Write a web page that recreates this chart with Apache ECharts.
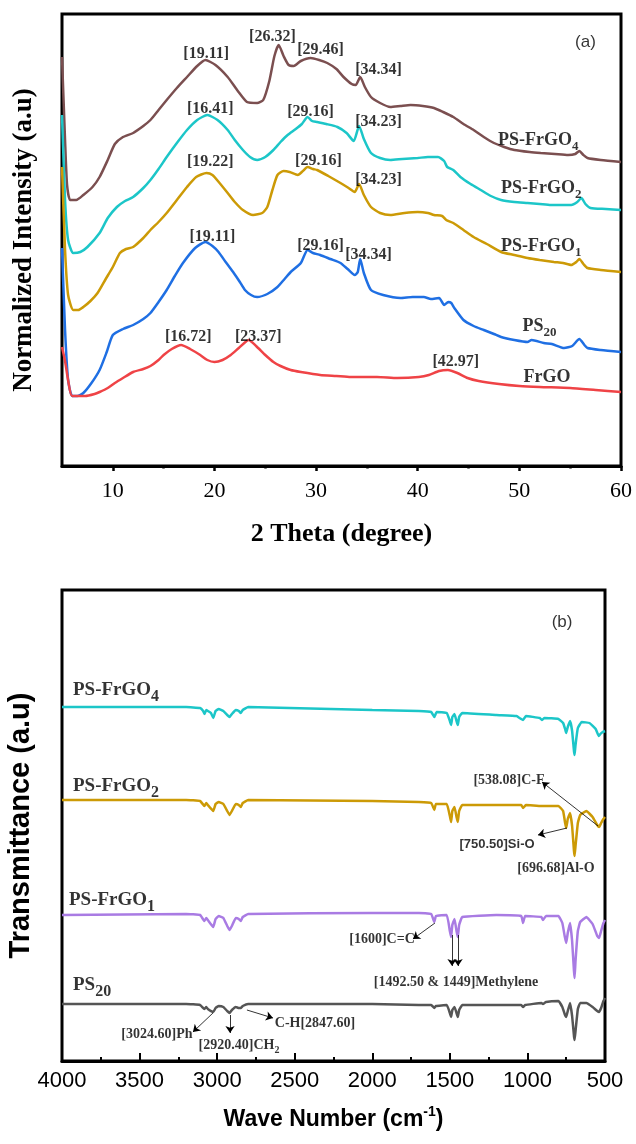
<!DOCTYPE html>
<html>
<head>
<meta charset="utf-8">
<script src="https://cdn.jsdelivr.net/npm/echarts@6/dist/echarts.min.js"></script>
<style>
  html, body { margin: 0; padding: 0; background: #fff; }
  #chart { width: 636px; height: 1144px; }
</style>
</head>
<body>
<div id="chart"></div>
<script>
// ---------- (a) XRD patterns: [2θ (degree), normalized intensity, stacked offset] ----------
const xrdFrGO4 = [[5,409],[5.3,326],[5.5,281],[5.8,266],[6.4,266],[7.1,271],[8,279],[8.7,289],[9.5,306],[10.2,322],[11,329],[12,333],[13,340],[13.7,346],[14.5,356],[15.3,366],[16.3,378],[17.3,389],[18.3,400],[19.11,406],[20.1,401],[21.3,389],[22.3,375],[23.2,364],[24.2,363],[24.8,366],[25.4,385],[25.9,410],[26.32,421],[26.8,410],[27.3,401],[27.8,400],[28.5,405],[29.46,408],[30.3,406],[31.1,403],[32,397],[32.7,389],[33.5,382],[33.9,381],[34.34,389],[34.8,379],[35.4,369],[36.3,363],[37.3,359],[38.3,360],[39.3,361],[40.5,360],[41.6,358],[42.5,354],[43.5,349],[44.5,342],[45.5,336],[46.5,329],[47.5,323],[48.5,319],[49.5,316],[51,314],[52.1,313],[53.5,312],[54.8,311],[55.5,312],[55.9,315],[56.3,311],[56.7,308],[58,306],[60,304]];
const xrdFrGO2 = [[5,351],[5.3,266],[5.6,226],[6.1,213],[6.8,214],[7.5,219],[8.7,233],[9.5,248],[10.4,259],[11.2,265],[12,269],[13,278],[13.7,286],[14.5,297],[15.3,309],[16.3,323],[17.3,336],[18.3,346],[19.3,351],[20.3,346],[21.3,336],[22,326],[22.8,316],[23.5,309],[24.2,306],[25,309],[25.8,316],[26.5,324],[27.2,331],[28,337],[28.6,342],[29.16,349],[29.6,345],[30.1,344],[31,342],[32.1,339],[33,333],[33.7,325],[34.23,340],[34.7,327],[35.4,313],[36.3,308],[37.3,306],[38.5,307],[40,308],[41,309],[42,309],[42.6,305],[42.9,299],[43.5,296],[44.2,289],[45.2,282],[46.2,276],[47.2,270],[48.2,266],[49.5,264],[50.8,263],[52,262],[53.1,261],[54.2,261],[55.1,261],[55.7,264],[56.1,268],[56.5,262],[57,258],[58.5,257],[60,256]];
const xrdFrGO1 = [[5,299],[5.3,216],[5.6,171],[6.1,156],[6.6,156],[7.1,159],[7.8,165],[8.5,173],[9.3,187],[10,199],[10.7,213],[11.3,217],[12,219],[13,228],[13.7,236],[14.5,244],[15.3,253],[16.3,266],[17.3,279],[18.2,289],[19.22,293],[19.8,291],[20.5,283],[21.3,273],[22,264],[22.8,256],[23.8,251],[24.7,253],[25.2,259],[25.7,276],[26.2,291],[26.8,295],[27.4,294],[28.2,291],[28.7,295],[29.16,299],[29.7,297],[30.1,296],[31.2,290],[32.4,283],[33.2,278],[33.8,274],[34.23,282],[34.7,271],[35.4,259],[36.3,253],[37.3,251],[38.7,253],[40,254],[41,253],[41.6,251],[42.4,250],[42.8,246],[43.5,243],[44.5,236],[45.5,229],[46.8,222],[48.2,214],[49.5,211],[50.8,208],[52,206],[53.4,204],[54.3,203],[55.1,201],[55.6,204],[55.9,207],[56.3,202],[56.7,198],[58,196],[60,194]];
const xrdPS20 = [[5,218],[5.3,136],[5.6,86],[6,70],[6.5,70],[7.1,73],[7.9,83],[8.7,96],[9.4,114],[10,131],[11,137],[12,141],[13,147],[13.7,153],[14.5,164],[15.3,176],[16.1,190],[16.9,203],[18.1,218],[19.11,224],[19.8,220],[20.4,214],[21.1,204],[21.9,193],[22.5,184],[23,176],[23.6,171],[24.2,169],[25.2,172],[26.2,179],[26.9,187],[27.5,194],[28.5,203],[29.16,216],[29.7,213],[30.4,211],[31.4,207],[32.4,203],[33.1,197],[33.8,191],[34.1,194],[34.34,207],[34.7,193],[35.4,176],[36.6,171],[38.3,168],[39.5,169],[40.6,169],[41.3,167],[42.1,168],[42.6,161],[43,164],[43.3,163],[43.6,158],[44.5,146],[45.5,140],[46.5,136],[47.5,132],[48.2,129],[49.5,126],[50.8,124],[51.2,126],[52.4,123],[53.2,122],[54.4,118],[55.2,120],[55.9,127],[56.4,121],[56.7,118],[58,116],[60,114]];
const xrdFrGO = [[5,119],[5.3,105],[5.6,86],[6,70],[7.3,70],[8.2,72],[8.7,74],[9.5,78],[10.2,83],[11,88],[12,94],[13,97],[13.7,100],[14.5,106],[15,111],[15.8,117],[16.72,121],[17.6,117],[18.6,111],[19.3,106],[20,104],[20.8,106],[21.6,111],[22.4,118],[23.37,126],[24.1,120],[25,111],[25.8,104],[26.5,100],[27.5,96],[28.5,94],[30.4,91],[32,90],[33.4,89],[36,89],[38,88],[40.1,89],[41.1,91],[42.1,95],[42.97,96],[43.9,93],[44.9,88],[46,85],[48,82],[50,80],[52,79],[55,78],[57.5,76],[60,74]];

const xrdTicks = [10, 20, 30, 40, 50, 60];
const xrdMinorTicks = [15, 25, 35, 45, 55];

// peak tags: [text, 2θ, intensity]
const xrdPeakTags = [
  ['[19.11]', 19.19, 412], ['[26.32]', 25.70, 429], ['[29.46]', 30.43, 416], ['[34.34]', 36.15, 396],
  ['[16.41]', 19.59, 357], ['[29.16]', 29.45, 354], ['[34.23]', 36.15, 344],
  ['[19.22]', 19.59, 304], ['[29.16]', 30.23, 305], ['[34.23]', 36.15, 286],
  ['[19.11]', 19.79, 229], ['[29.16]', 30.43, 220], ['[34.34]', 35.16, 211],
  ['[16.72]', 17.42, 129], ['[23.37]', 24.32, 129], ['[42.97]', 43.74, 104]
];
// sample names: [rich text, 2θ, intensity]
const xrdNames = [
  ['{m|PS-FrGO}{s|4}', 47.9, 326],
  ['{m|PS-FrGO}{s|2}', 48.2, 278],
  ['{m|PS-FrGO}{s|1}', 48.2, 220],
  ['{m|PS}{s|20}', 50.3, 140],
  ['{m|FrGO}', 50.4, 89]
];

// ---------- (b) FTIR spectra: [wave number (cm-1), transmittance, stacked offset] ----------
const ftirFrGO4 = [[4000,354],[3200,354],[3110,353],[3090,350],[3082,347],[3070,351],[3060,350],[3040,348],[3025,343],[3010,350],[2990,352],[2960,350],[2935,346],[2920,344],[2905,347],[2880,351],[2860,350],[2848,348],[2835,351],[2800,354],[2000,351],[1700,350],[1620,349],[1600,344],[1585,349],[1520,348],[1500,340],[1492,336],[1484,344],[1470,347],[1457,340],[1449,336],[1440,344],[1420,348],[1200,346],[1070,345],[1060,344],[1028,341],[1010,345],[920,343],[907,341],[890,343],[800,342],[770,338],[757,332],[750,328],[740,334],[725,340],[712,330],[700,310],[696,306],[690,316],[675,333],[650,339],[600,338],[560,332],[540,325],[530,327],[515,329],[500,330]];
const ftirFrGO2 = [[4000,261],[3200,261],[3110,260],[3082,255],[3070,258],[3060,256],[3025,250],[3010,257],[2990,259],[2960,257],[2935,250],[2920,246],[2905,250],[2880,257],[2860,256],[2848,254],[2835,258],[2800,261],[2000,260],[1700,259],[1620,258],[1600,251],[1590,257],[1520,257],[1500,245],[1492,239],[1484,250],[1470,254],[1457,244],[1449,239],[1440,250],[1420,256],[1200,256],[1040,256],[1028,253],[1010,256],[910,255],[800,255],[770,250],[757,238],[750,233],[740,242],[725,248],[712,235],[700,210],[696,205],[690,215],[675,238],[660,246],[620,250],[580,244],[550,236],[538,234],[525,238],[510,242],[500,244]];
const ftirFrGO1 = [[4000,146],[3200,147],[3110,146],[3082,140],[3070,143],[3060,141],[3025,134],[3010,142],[2990,145],[2960,143],[2935,135],[2920,131],[2905,135],[2880,143],[2860,142],[2848,140],[2835,144],[2800,147],[2000,148],[1700,148],[1620,147],[1600,139],[1590,145],[1520,146],[1500,130],[1492,124],[1484,136],[1470,142],[1457,130],[1449,124],[1440,136],[1420,144],[1200,146],[1040,145],[1028,138],[1015,145],[910,144],[900,141],[880,145],[800,145],[775,138],[760,125],[750,118],[740,128],[725,138],[712,120],[700,90],[696,83],[690,100],[675,130],[660,139],[620,144],[580,137],[550,125],[538,123],[525,130],[510,138],[500,141]];
const ftirPS20 = [[4000,57],[3200,57],[3110,56],[3082,52],[3070,54],[3060,52],[3025,49],[3010,53],[2990,55],[2960,54],[2935,50],[2920,48],[2905,51],[2880,54],[2860,53],[2848,53],[2835,55],[2800,57],[2000,57],[1700,56],[1620,56],[1600,53],[1590,55],[1520,56],[1500,48],[1492,44],[1484,51],[1470,54],[1457,48],[1449,44],[1440,51],[1420,56],[1200,56],[1040,56],[1028,54],[1015,56],[910,58],[900,57],[880,59],[800,60],[775,54],[760,47],[750,44],[740,50],[725,58],[712,45],[700,25],[696,21],[690,30],[675,52],[660,58],[620,58],[580,54],[550,50],[538,49],[525,53],[510,60],[500,63]];

// band assignments: [rich text, wave number, transmittance]
const ftirTags = [
  ['{t|[538.08]C-F}', 1119, 281],
  ['{u|[750.50]Si-O}', 1196, 217],
  ['{t|[696.68]Al-O}', 816, 193],
  ['{t|[1600]C=C}', 1937, 122],
  ['{t|[1492.50 & 1449]Methylene}', 1460, 79],
  ['{t|[3024.60]Ph}', 3388, 27],
  ['{t|[2920.40]CH}{d|2}', 2859, 16],
  ['{t|C-H[2847.60]}', 2369, 38]
];
// arrows from band to its tag: [[from], [to]]
const ftirArrows = [
  [[545, 235], [906, 279]],
  [[745, 233], [932, 226]],
  [[1596, 138], [1738, 122]],
  [[1486, 126], [1486, 95]],
  [[1447, 126], [1447, 95]],
  [[3027, 48], [3156, 29]],
  [[2917, 46], [2917, 28]],
  [[2808, 51], [2640, 43]]
];
const ftirNames = [
  ['{m|PS-FrGO}{s|4}', 3929, 371],
  ['{m|PS-FrGO}{s|2}', 3929, 275],
  ['{m|PS-FrGO}{s|1}', 3955, 161],
  ['{m|PS}{s|20}', 3929, 76]
];

const SERIF = '"Liberation Serif", "DejaVu Serif", serif';
const SANS = '"Liberation Sans", Arial, sans-serif';

const chart = echarts.init(document.getElementById('chart'), null, { renderer: 'canvas' });

function curve(data, color, xi, yi, width, smooth) {
  return {
    type: 'line', data: data, xAxisIndex: xi, yAxisIndex: yi,
    showSymbol: false, symbol: 'none', smooth: smooth, silent: true,
    lineStyle: { color: color, width: width }, z: 3
  };
}

function tags(items, xi, yi, label, align) {
  return {
    type: 'scatter', xAxisIndex: xi, yAxisIndex: yi, symbolSize: 0, silent: true, z: 5,
    data: items.map(t => ({ value: [t[1], t[2]], label: { formatter: t[0] } })),
    label: Object.assign({ show: true, position: 'inside', align: align || 'center', verticalAlign: 'middle', color: '#000' }, label)
  };
}

const nameRichTop = {
  m: { fontFamily: SERIF, fontWeight: 'bold', fontSize: 18, color: '#000', lineHeight: 26 },
  s: { fontFamily: SERIF, fontWeight: 'bold', fontSize: 13, color: '#000', lineHeight: 13, verticalAlign: 'bottom' }
};
const nameRichBottom = {
  m: { fontFamily: SERIF, fontWeight: 'bold', fontSize: 19, color: '#000', lineHeight: 30 },
  s: { fontFamily: SERIF, fontWeight: 'bold', fontSize: 16, color: '#000', lineHeight: 16, verticalAlign: 'bottom' }
};
const tagRich = {
  t: { fontFamily: SERIF, fontWeight: 'bold', fontSize: 14, color: '#000', lineHeight: 20 },
  u: { fontFamily: SANS, fontWeight: 'bold', fontSize: 13, color: '#000', lineHeight: 20 },
  d: { fontFamily: SERIF, fontWeight: 'bold', fontSize: 10, color: '#000', lineHeight: 10, verticalAlign: 'bottom' }
};

chart.setOption({
  animation: false,
  backgroundColor: '#fff',
  grid: [
    { left: 62, right: 15, top: 14, bottom: 678, outerBoundsMode: 'none', containLabel: false, show: true, borderColor: '#000', borderWidth: 3, backgroundColor: 'transparent' },
    { left: 62, right: 31, top: 590, bottom: 83, outerBoundsMode: 'none', containLabel: false, show: true, borderColor: '#000', borderWidth: 3, backgroundColor: 'transparent' }
  ],
  xAxis: [
    {
      gridIndex: 0, type: 'value', min: 5, max: 60, position: 'bottom',
      axisLine: { show: true, lineStyle: { color: '#000', width: 3 } },
      axisTick: { show: true, customValues: xrdTicks, length: 5, lineStyle: { color: '#000', width: 2.5 } },
      axisLabel: { customValues: xrdTicks, margin: 14, fontFamily: SERIF, fontSize: 22, color: '#000' },
      splitLine: { show: false },
      name: '2 Theta (degree)', nameLocation: 'middle', nameGap: 55,
      nameTextStyle: { fontFamily: SERIF, fontWeight: 'bold', fontSize: 26, color: '#000' }
    },
    {
      gridIndex: 0, type: 'value', min: 5, max: 60, position: 'bottom', offset: 0,
      axisLine: { show: false },
      axisTick: { show: true, customValues: xrdMinorTicks, length: 2.5, lineStyle: { color: '#000', width: 2.5 } },
      axisLabel: { show: false }, splitLine: { show: false }
    },
    {
      gridIndex: 1, type: 'value', min: 500, max: 4000, interval: 500, inverse: true,
      axisLine: { show: true, lineStyle: { color: '#000', width: 3 } },
      axisTick: { show: true, inside: true, length: 8, lineStyle: { color: '#000', width: 2 } },
      minorTick: { show: true, splitNumber: 2, length: 4, lineStyle: { color: '#000', width: 2 } },
      axisLabel: { margin: 9, fontFamily: SANS, fontSize: 22, color: '#000', formatter: v => String(v) },
      splitLine: { show: false },
      name: '{a|Wave Number (cm}{p|-1}{a|)}', nameLocation: 'middle', nameGap: 44,
      nameTextStyle: {
        rich: {
          a: { fontFamily: SANS, fontWeight: 'bold', fontSize: 23, color: '#000', lineHeight: 30 },
          p: { fontFamily: SANS, fontWeight: 'bold', fontSize: 14, color: '#000', lineHeight: 14, verticalAlign: 'top' }
        }
      }
    }
  ],
  yAxis: [
    {
      gridIndex: 0, type: 'value', min: 0, max: 452,
      axisLine: { show: false }, axisTick: { show: false }, axisLabel: { show: false }, splitLine: { show: false },
      name: 'Normalized Intensity (a.u)', nameLocation: 'middle', nameGap: 24,
      nameTextStyle: { fontFamily: SERIF, fontWeight: 'bold', fontSize: 27, color: '#000' }
    },
    {
      gridIndex: 1, type: 'value', min: 0, max: 471,
      axisLine: { show: false }, axisTick: { show: false }, axisLabel: { show: false }, splitLine: { show: false },
      name: 'Transmittance (a.u)', nameLocation: 'middle', nameGap: 27,
      nameTextStyle: { fontFamily: SANS, fontWeight: 'bold', fontSize: 29, color: '#000' }
    }
  ],
  series: [
    curve(xrdFrGO4, '#7b4f50', 0, 0, 2.5, 0.2),
    curve(xrdFrGO2, '#1cc6c8', 0, 0, 2.5, 0.2),
    curve(xrdFrGO1, '#cc9a06', 0, 0, 2.5, 0.2),
    curve(xrdPS20, '#1f6fe3', 0, 0, 2.5, 0.2),
    curve(xrdFrGO, '#ef4346', 0, 0, 2.5, 0.2),
    tags(xrdPeakTags, 0, 0, { fontFamily: SERIF, fontWeight: 'bold', fontSize: 16 }),
    tags(xrdNames, 0, 0, { rich: nameRichTop }, 'left'),
    tags([['(a)', 56.5, 424]], 0, 0, { fontFamily: SANS, fontSize: 17 }),

    curve(ftirFrGO4, '#1cc6c8', 2, 1, 2.5, 0.1),
    curve(ftirFrGO2, '#cc9a06', 2, 1, 2.5, 0.1),
    curve(ftirFrGO1, '#a97be3', 2, 1, 2.5, 0.1),
    curve(ftirPS20, '#555555', 2, 1, 2.5, 0.1),
    {
      type: 'lines', coordinateSystem: 'cartesian2d', xAxisIndex: 2, yAxisIndex: 1, silent: true, z: 6,
      symbol: ['none', 'arrow'], symbolSize: 7,
      lineStyle: { color: '#000', width: 0.8, opacity: 1, curveness: 0 },
      data: ftirArrows.map(a => ({ coords: a }))
    },
    tags(ftirTags, 2, 1, { rich: tagRich }),
    tags(ftirNames, 2, 1, { rich: nameRichBottom }, 'left'),
    tags([['(b)', 777, 439]], 2, 1, { fontFamily: SANS, fontSize: 17 })
  ]
});
</script>
</body>
</html>
